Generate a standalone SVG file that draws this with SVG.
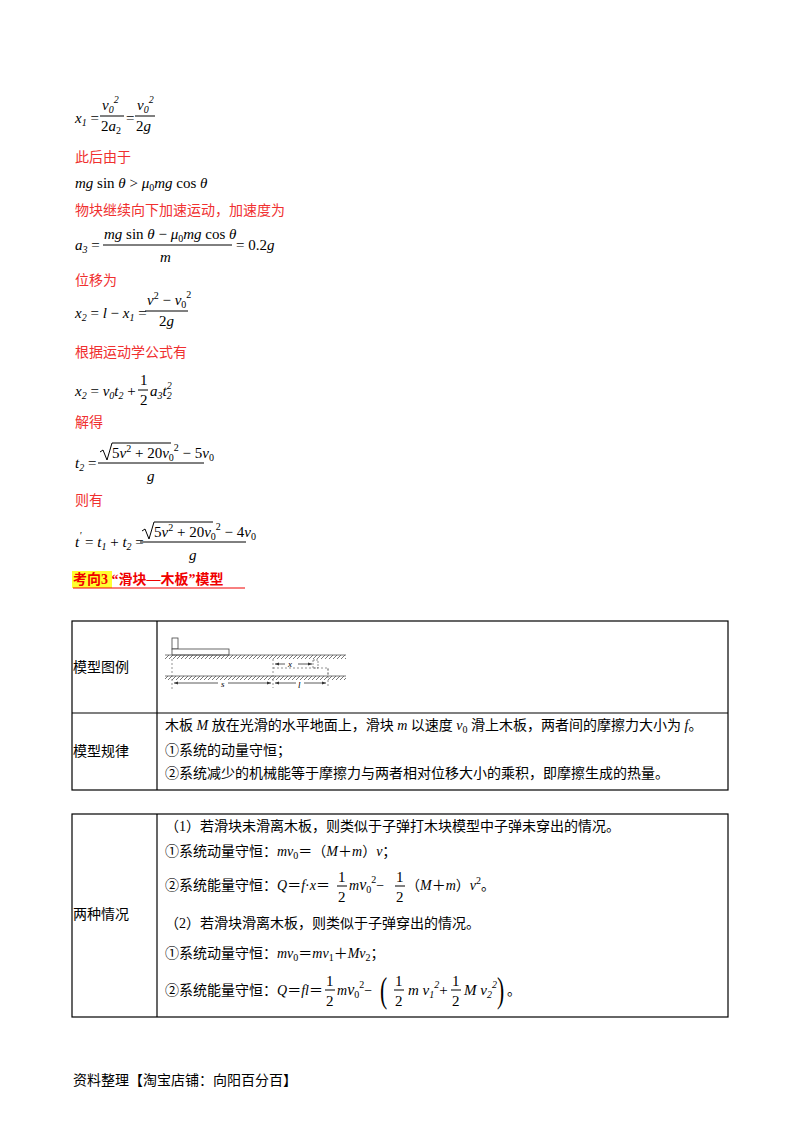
<svg xmlns="http://www.w3.org/2000/svg" width="800" height="1132" viewBox="0 0 800 1132">
<style>
.m{font-family:'Liberation Serif','DejaVu Serif',serif;font-size:15px;fill:#000}
.i{font-style:italic}
.s{font-size:10px}
.r{font-family:'Noto Sans CJK SC',sans-serif;font-size:14px;fill:#f03030}
.c{font-family:'Liberation Serif','Noto Sans CJK SC',serif;font-size:14px;fill:#000}
.ln{stroke:#000;stroke-width:1}
.tb{fill:none;stroke:#000;stroke-width:1.2}
.h{stroke:#555;stroke-width:0.8}
.fig{font-family:'Liberation Serif',serif;font-style:italic;font-size:9px}
</style>
<defs>
<pattern id="hat" width="4" height="4" patternUnits="userSpaceOnUse"><path d="M0 4L4 0" stroke="#555" stroke-width="0.8"/></pattern>
<marker id="ar" markerWidth="6" markerHeight="6" refX="5" refY="3" orient="auto"><path d="M0 1L5 3L0 5z" fill="#333"/></marker>
</defs>
<g id="formulas">
<text x="75" y="123" class="m i">x<tspan class="s" dy="3">1</tspan><tspan dy="-3" font-style="normal"> =</tspan></text>
<text x="102" y="110" class="m i">v<tspan class="s" dy="3">0</tspan><tspan class="s" dy="-10">2</tspan></text>
<line x1="100" y1="116" x2="124" y2="116" class="ln"/>
<text x="101" y="131" class="m">2<tspan class="i">a</tspan><tspan class="s" dy="3">2</tspan></text>
<text x="126" y="123" class="m">=</text>
<text x="137" y="110" class="m i">v<tspan class="s" dy="3">0</tspan><tspan class="s" dy="-10">2</tspan></text>
<line x1="135" y1="116" x2="155" y2="116" class="ln"/>
<text x="136" y="131" class="m">2<tspan class="i">g</tspan></text>
<text x="75" y="162" class="r">此后由于</text>
<text x="75" y="188" class="m"><tspan class="i">mg</tspan> sin <tspan class="i">θ</tspan> &gt; <tspan class="i">μ</tspan><tspan class="s" dy="3">0</tspan><tspan class="i" dy="-3">mg</tspan> cos <tspan class="i">θ</tspan></text>
<text x="75" y="215" class="r">物块继续向下加速运动，加速度为</text>
<text x="75" y="250" class="m i">a<tspan class="s" dy="3">3</tspan><tspan dy="-3" font-style="normal"> =</tspan></text>
<text x="104" y="239" class="m"><tspan class="i">mg</tspan> sin <tspan class="i">θ</tspan> − <tspan class="i">μ</tspan><tspan class="s" dy="3">0</tspan><tspan class="i" dy="-3">mg</tspan> cos <tspan class="i">θ</tspan></text>
<line x1="103" y1="245" x2="232" y2="245" class="ln"/>
<text x="160" y="262" class="m i">m</text>
<text x="236" y="250" class="m">= 0.2<tspan class="i">g</tspan></text>
<text x="75" y="285" class="r">位移为</text>
<text x="75" y="318" class="m i">x<tspan class="s" dy="3">2</tspan><tspan dy="-3" font-style="normal"> = </tspan>l<tspan font-style="normal"> − </tspan>x<tspan class="s" dy="3">1</tspan><tspan dy="-3" font-style="normal"> =</tspan></text>
<text x="147" y="305" class="m"><tspan class="i">v</tspan><tspan class="s" dy="-6">2</tspan><tspan dy="6"> − </tspan><tspan class="i">v</tspan><tspan class="s" dy="3">0</tspan><tspan class="s" dy="-10">2</tspan></text>
<line x1="145" y1="311" x2="188" y2="311" class="ln"/>
<text x="159" y="326" class="m">2<tspan class="i">g</tspan></text>
<text x="75" y="357" class="r">根据运动学公式有</text>
<text x="75" y="396" class="m i">x<tspan class="s" dy="3">2</tspan><tspan dy="-3" font-style="normal"> = </tspan>v<tspan class="s" dy="3">0</tspan><tspan dy="-3">t</tspan><tspan class="s" dy="3">2</tspan><tspan dy="-3" font-style="normal"> +</tspan></text>
<text x="140" y="385" class="m">1</text>
<line x1="138" y1="390" x2="148" y2="390" class="ln"/>
<text x="140" y="405" class="m">2</text>
<text x="150" y="396" class="m i">a<tspan class="s" dy="3">3</tspan><tspan dy="-3">t</tspan><tspan class="s" dy="3">2</tspan><tspan class="s" dx="-5" dy="-10">2</tspan></text>
<text x="75" y="427" class="r">解得</text>
<text x="75" y="468" class="m i">t<tspan class="s" dy="3">2</tspan><tspan dy="-3" font-style="normal"> =</tspan></text>
<path d="M100 452l3 -2 4 10 5 -17h59" fill="none" stroke="#000" stroke-width="1"/>
<text x="112" y="458" class="m">5<tspan class="i">v</tspan><tspan class="s" dy="-6">2</tspan><tspan dy="6"> + 20</tspan><tspan class="i">v</tspan><tspan class="s" dy="3">0</tspan><tspan class="s" dy="-10">2</tspan><tspan dy="7"> − 5</tspan><tspan class="i">v</tspan><tspan class="s" dy="3">0</tspan></text>
<line x1="98" y1="463" x2="204" y2="463" class="ln"/>
<text x="147" y="481" class="m i">g</text>
<text x="75" y="505" class="r">则有</text>
<text x="75" y="547" class="m i">t<tspan class="s" dy="-8">'</tspan><tspan dy="8" font-style="normal"> = </tspan>t<tspan class="s" dy="3">1</tspan><tspan dy="-3" font-style="normal"> + </tspan>t<tspan class="s" dy="3">2</tspan><tspan dy="-3" font-style="normal"> =</tspan></text>
<path d="M142 531l3 -2 4 10 5 -17h59" fill="none" stroke="#000" stroke-width="1"/>
<text x="154" y="537" class="m">5<tspan class="i">v</tspan><tspan class="s" dy="-6">2</tspan><tspan dy="6"> + 20</tspan><tspan class="i">v</tspan><tspan class="s" dy="3">0</tspan><tspan class="s" dy="-10">2</tspan><tspan dy="7"> − 4</tspan><tspan class="i">v</tspan><tspan class="s" dy="3">0</tspan></text>
<line x1="140" y1="542" x2="246" y2="542" class="ln"/>
<text x="189" y="560" class="m i">g</text>
</g>
<g id="heading">
<rect x="72" y="571" width="40" height="17" fill="#ffff30"/>
<text x="73" y="584" font-family="'Liberation Serif','Noto Sans CJK SC',serif" font-size="14" font-weight="bold" fill="#f00000">考向3 “滑块—木板”模型</text>
<line x1="73" y1="588" x2="245" y2="588" stroke="#f00000" stroke-width="1"/>
</g>
<g id="table1">
<rect x="72" y="621" width="656" height="169" class="tb"/>
<line x1="72" y1="713" x2="728" y2="713" class="tb"/>
<line x1="157" y1="621" x2="157" y2="790" class="tb"/>
<text x="73" y="672" class="c">模型图例</text>
<text x="73" y="756" class="c">模型规律</text>
<text x="165" y="730" class="c">木板 <tspan class="i">M</tspan> 放在光滑的水平地面上，滑块 <tspan class="i">m</tspan> 以速度 <tspan class="i">v</tspan><tspan class="s" dy="3">0</tspan><tspan dy="-3"> 滑上木板，两者间的摩擦力大小为 </tspan><tspan class="i">f</tspan>。</text>
<text x="165" y="755" class="c">①系统的动量守恒；</text>
<text x="165" y="778" class="c">②系统减少的机械能等于摩擦力与两者相对位移大小的乘积，即摩擦生成的热量。</text>
</g>
<g id="model-figure">
<rect x="172" y="638" width="6" height="11" fill="#fff" stroke="#444" stroke-width="0.8"/>
<rect x="172" y="649" width="57" height="6" fill="#fff" stroke="#444" stroke-width="0.8"/>
<rect x="165" y="655" width="181" height="4" fill="url(#hat)"/>
<line x1="165" y1="655" x2="346" y2="655" class="h"/>
<rect x="165" y="676" width="181" height="4" fill="url(#hat)"/>
<line x1="165" y1="676" x2="346" y2="676" class="h"/>
<line x1="172" y1="659" x2="172" y2="690" stroke="#666" stroke-width="0.7" stroke-dasharray="2,2"/>
<line x1="273" y1="659" x2="273" y2="688" stroke="#666" stroke-width="0.7" stroke-dasharray="2,2"/>
<rect x="313" y="660" width="5" height="8" fill="none" stroke="#666" stroke-width="0.7" stroke-dasharray="2,1"/>
<path d="M273 668H328V676" fill="none" stroke="#666" stroke-width="0.7" stroke-dasharray="2,2"/>
<line x1="328" y1="668" x2="328" y2="688" stroke="#666" stroke-width="0.7" stroke-dasharray="2,2"/>
<line x1="285" y1="664" x2="275" y2="664" stroke="#333" stroke-width="0.8" marker-end="url(#ar)"/>
<line x1="298" y1="664" x2="312" y2="664" stroke="#333" stroke-width="0.8" marker-end="url(#ar)"/>
<text x="288" y="667" class="fig">x</text>
<line x1="218" y1="683" x2="174" y2="683" stroke="#333" stroke-width="0.8" marker-end="url(#ar)"/>
<line x1="228" y1="683" x2="271" y2="683" stroke="#333" stroke-width="0.8" marker-end="url(#ar)"/>
<text x="221" y="687" class="fig">s</text>
<line x1="296" y1="683" x2="275" y2="683" stroke="#333" stroke-width="0.8" marker-end="url(#ar)"/>
<line x1="304" y1="683" x2="326" y2="683" stroke="#333" stroke-width="0.8" marker-end="url(#ar)"/>
<text x="298" y="688" class="fig" font-size="10">l</text>
</g>
<g id="table2">
<rect x="72" y="814" width="656" height="203" class="tb"/>
<line x1="157" y1="814" x2="157" y2="1017" class="tb"/>
<text x="73" y="919" class="c">两种情况</text>
<text x="165" y="831" class="c">（1）若滑块未滑离木板，则类似于子弹打木块模型中子弹未穿出的情况。</text>
<text x="165" y="856" class="c">①系统动量守恒：<tspan class="i">mv</tspan><tspan class="s" dy="3">0</tspan><tspan dy="-3">＝（</tspan><tspan class="i">M</tspan>＋<tspan class="i">m</tspan>）<tspan class="i">v</tspan>；</text>
<text x="165" y="890" class="c">②系统能量守恒：<tspan class="i">Q</tspan>＝<tspan class="i">f</tspan>·<tspan class="i">x</tspan>＝</text>
<text x="338" y="882" class="m" font-size="17">1</text>
<line x1="337" y1="886" x2="347" y2="886" class="ln"/>
<text x="338" y="902" class="m" font-size="17">2</text>
<text x="349" y="890" class="c"><tspan class="i">m</tspan><tspan class="i" font-size="16">v</tspan><tspan class="s" dy="3">0</tspan><tspan class="s" dy="-10">2</tspan><tspan dy="7">−</tspan></text>
<text x="396" y="882" class="m" font-size="17">1</text>
<line x1="395" y1="886" x2="405" y2="886" class="ln"/>
<text x="396" y="902" class="m" font-size="17">2</text>
<text x="406" y="890" class="c">（<tspan class="i">M</tspan>＋<tspan class="i">m</tspan>）<tspan class="i">v</tspan><tspan class="s" dy="-6">2</tspan><tspan dy="6">。</tspan></text>
<text x="165" y="928" class="c">（2）若滑块滑离木板，则类似于子弹穿出的情况。</text>
<text x="165" y="958" class="c">①系统动量守恒：<tspan class="i">mv</tspan><tspan class="s" dy="3">0</tspan><tspan dy="-3">＝</tspan><tspan class="i">mv</tspan><tspan class="s" dy="3">1</tspan><tspan dy="-3">＋</tspan><tspan class="i">Mv</tspan><tspan class="s" dy="3">2</tspan><tspan dy="-3">；</tspan></text>
<text x="165" y="995" class="c">②系统能量守恒：<tspan class="i">Q</tspan>＝<tspan class="i">fl</tspan>＝</text>
<text x="326" y="986" class="m" font-size="17">1</text>
<line x1="325" y1="990" x2="335" y2="990" class="ln"/>
<text x="326" y="1006" class="m" font-size="17">2</text>
<text x="337" y="995" class="c"><tspan class="i">m</tspan><tspan class="i" font-size="16">v</tspan><tspan class="s" dy="3">0</tspan><tspan class="s" dy="-10">2</tspan><tspan dy="7">−</tspan></text>
<text x="380" y="1002" font-family="'Liberation Serif',serif" font-size="36" transform="translate(380 1002) scale(0.6 1) translate(-380 -1002)">(</text>
<text x="395" y="986" class="m" font-size="17">1</text>
<line x1="394" y1="990" x2="404" y2="990" class="ln"/>
<text x="395" y="1006" class="m" font-size="17">2</text>
<text x="408" y="995" class="m i" font-size="16">m v<tspan class="s" dy="3">1</tspan><tspan class="s" dy="-10">2</tspan><tspan dy="7" font-style="normal">+</tspan></text>
<text x="452" y="986" class="m" font-size="17">1</text>
<line x1="451" y1="990" x2="461" y2="990" class="ln"/>
<text x="452" y="1006" class="m" font-size="17">2</text>
<text x="464" y="995" class="m i" font-size="16">M v<tspan class="s" dy="3">2</tspan><tspan class="s" dy="-10">2</tspan></text>
<text x="497" y="1002" font-family="'Liberation Serif',serif" font-size="36" transform="translate(497 1002) scale(0.6 1) translate(-497 -1002)">)</text>
<text x="507" y="995" class="c">。</text>
</g>
<text x="73" y="1085" class="c" font-size="13">资料整理【淘宝店铺：向阳百分百】</text>
</svg>
